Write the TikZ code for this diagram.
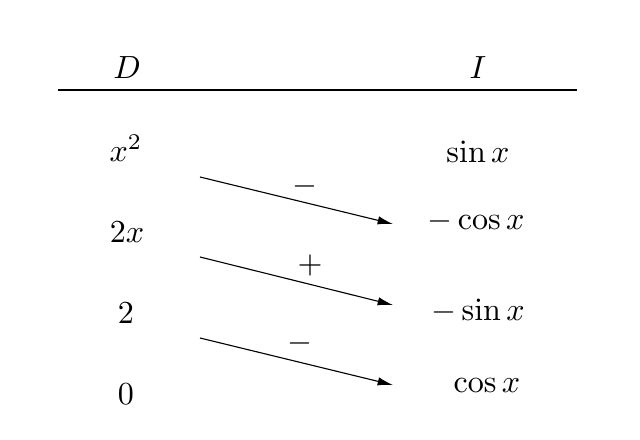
\documentclass[tikz,border=0pt]{standalone}
\usetikzlibrary{arrows.meta, positioning, calc}

\begin{document}
\begin{tikzpicture}[
    x=0.0126cm, y=-0.0126cm,
    entry/.style={inner sep=1pt, anchor=center, scale=1.15},
    sgn/.style={inner sep=1pt, scale=1.15},
    arr/.style={-{Latex[length=5.5pt, width=3pt]}, line width=0.4pt}]

\useasboundingbox (0,0) rectangle (640,440);

% headings and rule
\node[entry] (hD) at (127,68) {$D$};
\node[entry] (hI) at (478,68) {$I$};
\coordinate (ruleL) at (58,90);
\coordinate (ruleR) at (577,90);
\draw (ruleL) -- (ruleR);

% column D
\node[entry] (d0) at (126,148) {$x^2$};
\node[entry] (d1) at (127,232) {$2x$};
\node[entry] (d2) at (126,313) {$2$};
\node[entry] (d3) at (126,394) {$0$};

% column I
\node[entry] (i0) at (478,152) {$\sin x$};
\node[entry] (i1) at (476,221) {$-\cos x$};
\node[entry] (i2) at (478,311) {$-\sin x$};
\node[entry] (i3) at (487,386) {$\cos x$};

% arrow ends
\coordinate (s1) at (200,177);  \coordinate (e1) at (393,224);
\coordinate (s2) at (200,257);  \coordinate (e2) at (393,305);
\coordinate (s3) at (200,338);  \coordinate (e3) at (393,385);

\draw[arr] (s1) -- (e1);
\draw[arr] (s2) -- (e2);
\draw[arr] (s3) -- (e3);

% signs
\node[sgn] (p1) at (305,186) {$-$};
\node[sgn] (p2) at (310,265) {$+$};
\node[sgn] (p3) at (300,343) {$-$};

\end{tikzpicture}
\end{document}
